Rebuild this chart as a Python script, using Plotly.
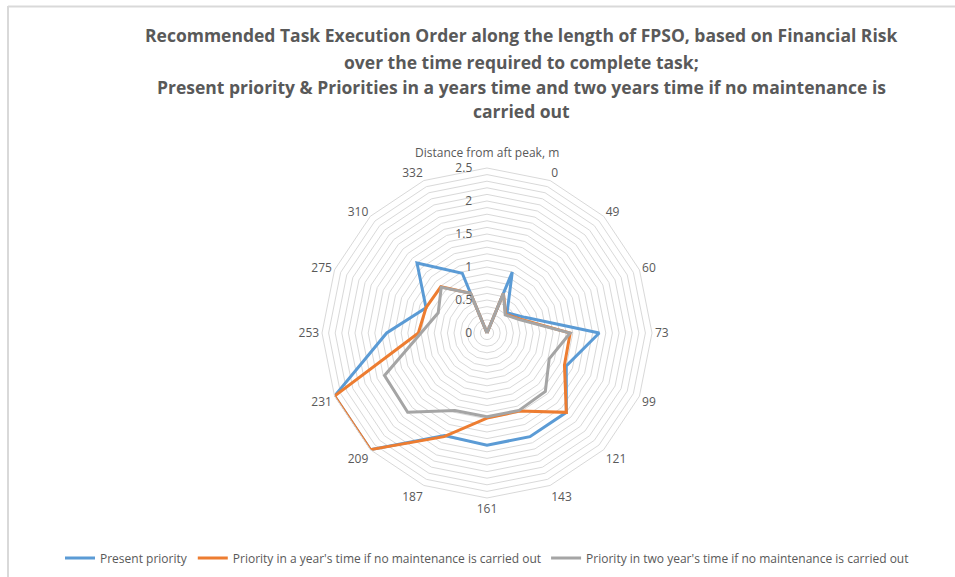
import plotly.graph_objects as go

categories = ["Distance from aft peak, m", "0", "49", "60", "73", "99", "121", "143",
              "161", "187", "209", "231", "253", "275", "310", "332"]
present = [0, 1.0, 0.43, 0.62, 1.7, 1.3, 1.7, 1.7, 1.7, 1.68, 2.5, 2.5, 1.52, 1.0, 1.5, 0.98]
year_one = [0, 0.65, 0.4, 0.55, 1.26, 1.27, 1.7, 1.28, 1.29, 1.7, 2.5, 2.5, 1.04, 1.0, 0.99, 0.65]
year_two = [0, 0.65, 0.39, 0.53, 1.26, 1.02, 1.25, 1.27, 1.27, 1.27, 1.7, 1.68, 1.0, 0.8, 0.98, 0.65]
series_names = ["Present priority",
                "Priority in a year's time if no maintenance is carried out",
                "Priority in two year's time if no maintenance is carried out"]
colors = ["#5B9BD5", "#ED7D31", "#A5A5A5"]
title_lines = ["Recommended Task Execution Order along the length of FPSO, based on Financial Risk",
               "over the time required to complete task;",
               "Present priority & Priorities in a years time and two years time if no maintenance is",
               "carried out"]

NB = "\u00a0"
tick_vals = [round(i * 0.1, 1) for i in range(26)]
tick_text = [(("%g" % v) + NB * 4) if abs(v * 2 - round(v * 2)) < 1e-9 else "" for v in tick_vals]
# the first category's label is drawn a little higher (as in the reference) via an annotation
ang_text = [""] + categories[1:]

fig = go.Figure()
for name, vals, col in zip(series_names, [present, year_one, year_two], colors):
    fig.add_trace(go.Scatterpolar(
        r=vals + [vals[0]], theta=categories + [categories[0]],
        mode="lines", name=name, line=dict(color=col, width=3)))

W, H = 955, 577
cx, cy, R = 487, 333, 165
fig.update_layout(
    width=W, height=H,
    margin=dict(l=0, r=0, t=0, b=0, autoexpand=False),
    paper_bgcolor="white",
    font=dict(family="Open Sans, sans-serif", color="#595959", size=12),
    polar=dict(
        domain=dict(x=[(cx - R) / W, (cx + R) / W], y=[(H - cy - R) / H, (H - cy + R) / H]),
        bgcolor="white",
        gridshape="linear",
        radialaxis=dict(range=[0, 2.5], tickvals=tick_vals, ticktext=tick_text,
                        angle=90, tickangle=90, side="counterclockwise",
                        showline=False, ticks="", gridcolor="#D9D9D9", gridwidth=1,
                        tickfont=dict(size=12, color="#595959")),
        angularaxis=dict(rotation=90, direction="clockwise", showgrid=False,
                         tickmode="array", tickvals=categories, ticktext=ang_text,
                         showline=True, linecolor="#D9D9D9", linewidth=1, ticks="",
                         tickfont=dict(size=12, color="#595959")),
    ),
    legend=dict(orientation="h", x=487 / W, xanchor="center", y=1 - 558 / H, yanchor="middle",
                font=dict(size=12, color="#595959"), itemwidth=30),
    showlegend=True,
)
fig.add_annotation(text=categories[0], xref="paper", yref="paper",
                   x=cx / W, y=1 - 152 / H, xanchor="center", yanchor="middle",
                   showarrow=False, font=dict(size=12, color="#595959"))
for line, ypx in zip(title_lines, [35, 62, 87, 111]):
    fig.add_annotation(text="<b>" + line + "</b>", xref="paper", yref="paper",
                       x=521 / W, y=1 - ypx / H, xanchor="center", yanchor="middle",
                       showarrow=False,
                       font=dict(size=17.5, color="#595959", family="Open Sans, sans-serif"))
fig.add_shape(type="line", xref="paper", yref="paper", x0=8 / W, x1=1, y0=1 - 6.5 / H, y1=1 - 6.5 / H,
              line=dict(color="#D9D9D9", width=2))
fig.add_shape(type="line", xref="paper", yref="paper", x0=8 / W, x1=8 / W, y0=0, y1=1 - 6 / H,
              line=dict(color="#D9D9D9", width=2))
fig.write_html("out.html", config={"displayModeBar": False},
               post_script="document.body.style.margin='0';document.body.style.overflow='hidden';")
